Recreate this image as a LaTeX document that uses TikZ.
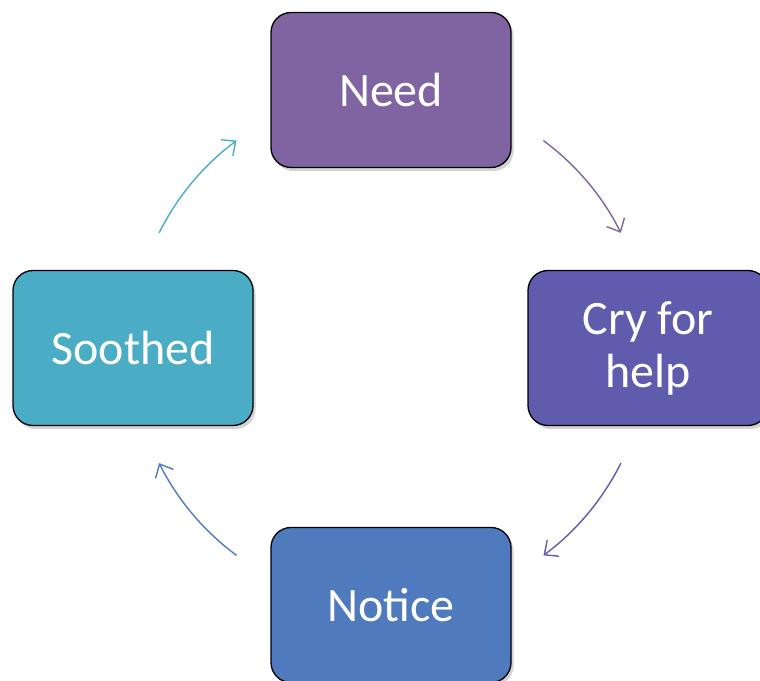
\documentclass[tikz,border=0pt]{standalone}
\usepackage{fontspec}
\setmainfont{Carlito}
\usetikzlibrary{arrows.meta,shadows}
\definecolor{needpurple}{HTML}{8064A2}
\definecolor{crypurple}{HTML}{5F5BAD}
\definecolor{noticeblue}{HTML}{4F7BBE}
\definecolor{soothedteal}{HTML}{4BACC6}
\tikzset{
	stagebox/.style={draw=black, line width=1.3pt, rounded corners=20pt,
		minimum width=240pt, minimum height=155pt, text=white, align=center,
		font=\fontsize{48}{53}\selectfont,
		drop shadow={shadow xshift=2.5pt, shadow yshift=-3.5pt, opacity=0.35}},
	cyclearrow/.style={line width=1.4pt, -{Straight Barb[length=11pt,width=20pt]}}
}

\begin{document}
\begin{tikzpicture}[x=1pt, y=1pt]
		%%%%% START %%%%%
		
		\clip (0, 0) rectangle (760, 680);
		\coordinate (hub) at (390, 332);
		
		\node[stagebox, fill=needpurple] (need) at (391, 590) {Need};
		\node[stagebox, fill=crypurple] (cry) at (648, 332) {Cry for\\help};
		\node[stagebox, fill=noticeblue] (notice) at (391, 75) {Notice};
		\node[stagebox, fill=soothedteal] (soothed) at (133, 332) {Soothed};
		
		\draw[cyclearrow, color=needpurple] ([shift={(53.5:258pt)}]hub) arc[start angle=53.5, end angle=26.5, radius=258pt];
		\draw[cyclearrow, color=crypurple] ([shift={(-26.5:258pt)}]hub) arc[start angle=-26.5, end angle=-53.5, radius=258pt];
		\draw[cyclearrow, color=noticeblue] ([shift={(-126.5:258pt)}]hub) arc[start angle=-126.5, end angle=-153.5, radius=258pt];
		\draw[cyclearrow, color=soothedteal] ([shift={(153.5:258pt)}]hub) arc[start angle=153.5, end angle=126.5, radius=258pt];
		
		%%%%% END %%%%%
	\end{tikzpicture}
\end{document}
